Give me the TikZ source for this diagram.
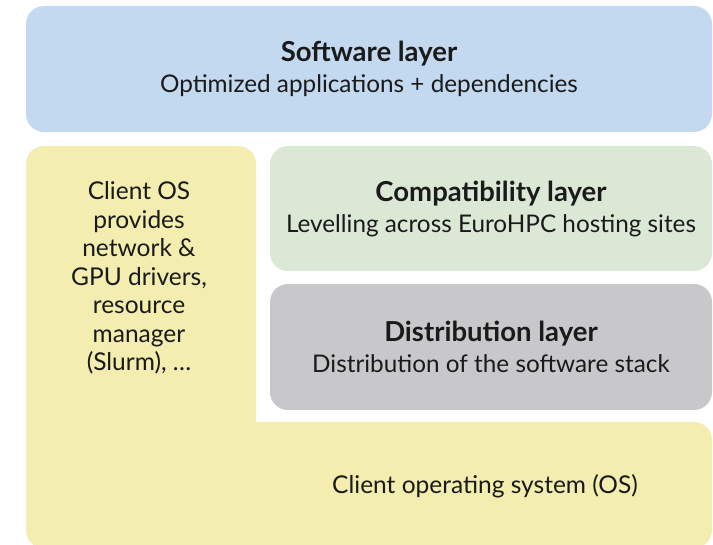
\documentclass[tikz,border=0pt]{standalone}
\usepackage{fontspec}
\setmainfont{Lato}
\usepackage{xcolor}
\usepackage{tikz}
\definecolor{swblue}{HTML}{C3D9F0}
\definecolor{compgreen}{HTML}{DBE8D6}
\definecolor{distgray}{HTML}{C8C8CA}
\definecolor{osyellow}{HTML}{F3EDB0}
\definecolor{inktext}{HTML}{1A1A1A}

\newcommand{\layerhead}[1]{{\fontsize{27.5}{31}\selectfont\bfseries #1}}

\tikzset{
  layer/.style={rounded corners=18pt, inner sep=0pt, align=center, text=inktext,
    font=\fontsize{24.3}{31}\selectfont},
  ostext/.style={align=center, text=inktext, font=\fontsize{24.5}{28.5}\selectfont}
}

\begin{document}
\begin{tikzpicture}[x=1pt, y=-1pt]
    \useasboundingbox (0,0) rectangle (713,545);
    % Software layer
    \node[layer, fill=swblue, minimum width=686pt, minimum height=126pt] (sw) at (369,69)
      {\layerhead{Software layer}\\ Optimized applications + dependencies};
    % Client OS (column and base)
    \node[layer, fill=osyellow, minimum width=230pt, minimum height=402pt] (oscol) at (141,347) {};
    \node[layer, fill=osyellow, minimum width=686pt, minimum height=126pt] (osbase) at (369,485) {};
    % Compatibility layer
    \node[layer, fill=compgreen, minimum width=442pt, minimum height=125pt] (compat) at (491,208.5)
      {\layerhead{Compatibility layer}\\ Levelling across EuroHPC hosting sites};
    % Distribution layer
    \node[layer, fill=distgray, minimum width=442pt, minimum height=126pt] (dist) at (491,347)
      {\layerhead{Distribution layer}\\ Distribution of the software stack};
    % Texts on the client OS
    \node[ostext] (ostext) at (139,278)
      {Client OS\\ provides\\ network \&\\ GPU drivers,\\ resource\\ manager\\ (Slurm), \ldots};
    \node[ostext] (oslabel) at (485,486) {Client operating system (OS)};
\end{tikzpicture}
\end{document}
